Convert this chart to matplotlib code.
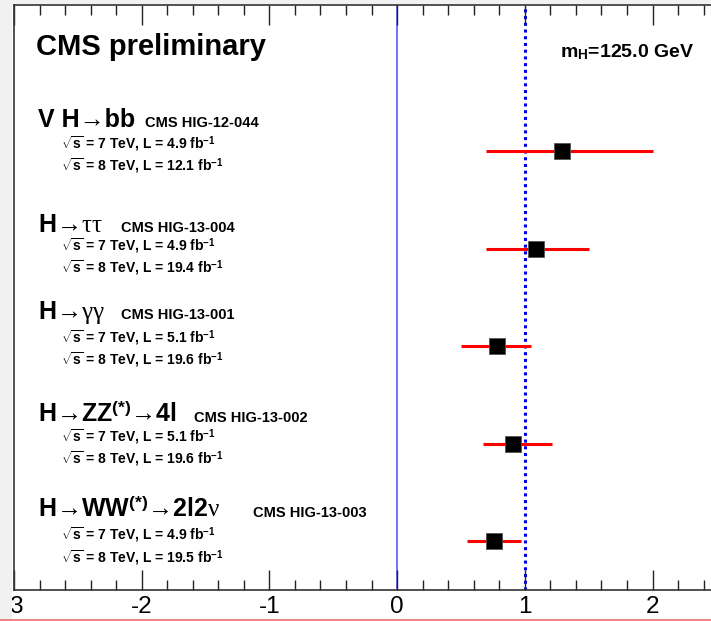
import matplotlib
matplotlib.use('Agg')
import matplotlib.pyplot as plt
from matplotlib.ticker import MultipleLocator, FixedLocator
from matplotlib.patches import Rectangle
from matplotlib.lines import Line2D

plt.rcParams['font.family'] = ['Liberation Sans', 'DejaVu Sans']
plt.rcParams['axes.unicode_minus'] = False
plt.rcParams['mathtext.fontset'] = 'custom'
plt.rcParams['mathtext.rm'] = 'Liberation Sans:bold'
plt.rcParams['mathtext.bf'] = 'Liberation Sans:bold'
plt.rcParams['mathtext.it'] = 'Liberation Serif'
plt.rcParams['mathtext.sf'] = 'Liberation Sans'

# channels, top to bottom
channels = ['V H\u2192bb', 'H\u2192$\\tau\\tau$', 'H\u2192$\\gamma\\gamma$',
            'H\u2192ZZ$^{\\mathbf{(*)}}$\u21924l', 'H\u2192WW$^{\\mathbf{(*)}}$\u21922l2$\\nu$']
refs = ['CMS HIG-12-044', 'CMS HIG-13-004', 'CMS HIG-13-001', 'CMS HIG-13-002', 'CMS HIG-13-003']
lumi7 = ['4.9', '4.9', '5.1', '5.1', '4.9']
lumi8 = ['12.1', '19.4', '19.6', '19.6', '19.5']
mu = [1.29, 1.09, 0.78, 0.91, 0.76]
err_lo = [0.59, 0.39, 0.28, 0.24, 0.21]
err_hi = [0.71, 0.41, 0.27, 0.30, 0.21]
major_ticks = [-3, -2, -1, 0, 1, 2]

rows = [4, 3, 2, 1, 0]
# text baselines (data y) for header / 7 TeV line / 8 TeV line
head_y = [4.25, 3.172, 2.283, 1.222, 0.246]
line1_y = [4.03, 2.984, 2.043, 1.024, 0.017]
line2_y = [3.80, 2.752, 1.814, 0.795, -0.216]
ref_x = [-1.971, -2.166, -2.166, -1.594, -1.132]

W, H = 711, 621
fig = plt.figure(figsize=(7.11, 6.21), dpi=100)
fig.patch.set_facecolor('white')

# axes: x=-3 at px 14, 127.7 px per unit; frame from y=5 to y=590
x0, ppu = 14.0, 127.7
ax = fig.add_axes([x0 / W, (H - 590) / H, 6 * ppu / W, 585 / H])
ax.set_xlim(-3, 3)
ax.set_ylim(-0.5, 5.5)

ax.axvline(0, color='#6666ff', lw=1.3, zorder=1)
ax.axvline(1, color='#0000ee', ls=(0, (1, 1.2)), lw=2.2, zorder=1)

ax.errorbar(mu, rows, xerr=[err_lo, err_hi], fmt='s', color='black',
            ecolor='red', elinewidth=2.2, capsize=0, markersize=11,
            markeredgecolor='#555555', markeredgewidth=0.6, zorder=3)

ax.text(-2.824, 4.987, 'CMS preliminary', fontsize=21, fontweight='bold', va='baseline')
ax.text(1.279, 4.966, r'm$_{\mathbf{H}}$=125.0 GeV', fontsize=14, fontweight='bold', va='baseline')

for i in range(len(channels)):
    ax.text(-2.815, head_y[i], channels[i], fontsize=18, fontweight='bold', va='baseline')
    ax.text(ref_x[i], head_y[i], refs[i], fontsize=10.5, fontweight='bold', va='baseline')
    ax.text(-2.629, line1_y[i], r'$\sqrt{\mathbf{s}}$ = 7 TeV, L = ' + lumi7[i] + r' fb$^{\mathbf{-1}}$',
            fontsize=10, fontweight='bold', va='baseline')
    ax.text(-2.629, line2_y[i], r'$\sqrt{\mathbf{s}}$ = 8 TeV, L = ' + lumi8[i] + r' fb$^{\mathbf{-1}}$',
            fontsize=10, fontweight='bold', va='baseline')

ax.xaxis.set_major_locator(FixedLocator(major_ticks))
ax.xaxis.set_minor_locator(MultipleLocator(0.2))
ax.tick_params(axis='x', which='both', direction='in', top=True, bottom=True, color='#222222')
ax.tick_params(axis='x', which='major', length=14.4, width=1, labelsize=17.5, pad=4)
ax.tick_params(axis='x', which='minor', length=7.2, width=1)
ax.set_yticks([])
for s in ax.spines.values():
    s.set_color('#333333')
    s.set_linewidth(1.2)

# grey strip of the screenshot and the red line below
fig.patches.append(Rectangle((0, 0), 12 / W, 1, transform=fig.transFigure,
                             facecolor='#f1f1f1', edgecolor='none', zorder=10))
fig.patches.append(Rectangle((0, (H - 4) / H), 1, 4 / H, transform=fig.transFigure,
                             facecolor='#f1f1f1', edgecolor='none', zorder=10))
fig.lines.append(Line2D([0, 1], [0.6 / H, 0.6 / H], transform=fig.transFigure,
                        color='#e87070', lw=1.2, zorder=11))

fig.savefig('out.png', dpi=100)
